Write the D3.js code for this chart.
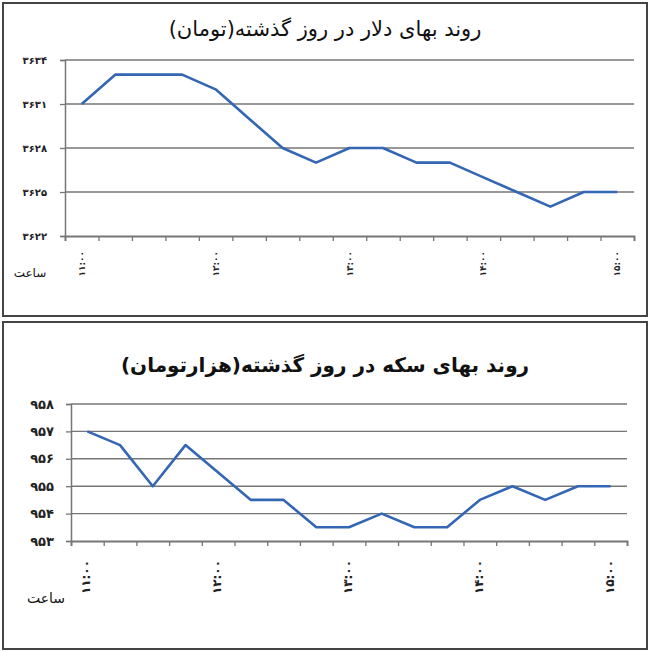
<!DOCTYPE html>
<html><head><meta charset="utf-8">
<script src="https://cdn.jsdelivr.net/npm/d3@7"></script>
<style>body{margin:0;background:#fff}svg{display:block}</style>
</head><body>
<svg id="c" width="650" height="652"></svg>
<script>
const times = ["11:00","11:15","11:30","11:45","12:00","12:15","12:30","12:45","13:00","13:15","13:30","13:45","14:00","14:15","14:30","14:45","15:00"];
const dollarValues = [3631,3633,3633,3633,3632,3630,3628,3627,3628,3628,3627,3627,3626,3625,3624,3625,3625];
const dollarTicks = [3622,3625,3628,3631,3634];
const coinValues = [957,956.5,955,956.5,955.5,954.5,954.5,953.5,953.5,954,953.5,953.5,954.5,955,954.5,955,955];
const coinTicks = [953,954,955,956,957,958];
const dollarTitle = "روند بهای دلار در روز گذشته(تومان)";
const coinTitle = "روند بهای سکه در روز گذشته(هزارتومان)";
const xTitle = "ساعت";

const fa = s => String(s).replace(/\d/g, d => "۰۱۲۳۴۵۶۷۸۹"[d]);
const svg = d3.select("#c");

function panel(cfg){
  const g = svg.append("g");
  g.append("rect").attr("x",cfg.box[0]).attr("y",cfg.box[1]).attr("width",cfg.box[2]).attr("height",cfg.box[3])
    .attr("fill","#fff").attr("stroke","#444").attr("stroke-width",2);
  g.append("text").attr("x",325).attr("y",cfg.titleY).attr("text-anchor","middle")
    .attr("font-family","DejaVu Sans").attr("font-size",cfg.titleSize).attr("font-weight",cfg.titleWeight)
    .attr("fill","#111").attr("direction","rtl").text(cfg.title);
  const [L,R,T,B] = cfg.plot;
  const y = d3.scaleLinear().domain(d3.extent(cfg.ticks)).range([B,T]);
  const xb = d3.scaleBand().domain(times).range([L,R]);
  const xl = d3.scaleLinear().domain([0,times.length]).range([L,R]);
  g.append("g").selectAll("line").data(cfg.ticks.slice(1)).join("line")
    .attr("x1",L).attr("x2",R).attr("y1",d=>y(d)).attr("y2",d=>y(d))
    .attr("stroke","#767676").attr("stroke-width",1.4);
  const ya = g.append("g").attr("transform",`translate(${L},0)`)
    .call(d3.axisLeft(y).tickValues(cfg.ticks).tickSize(5).tickPadding(cfg.yPad).tickFormat(fa));
  ya.select(".domain").attr("stroke","#767676").attr("stroke-width",1.5);
  ya.selectAll(".tick line").attr("stroke","#767676").attr("stroke-width",1.3);
  ya.selectAll("text").attr("font-family","DejaVu Sans").attr("font-size",cfg.ySize).attr("font-weight","bold")
    .attr("letter-spacing",cfg.ls).attr("fill","#222");
  const xa = g.append("g").attr("transform",`translate(0,${B})`)
    .call(d3.axisBottom(xl).tickValues(d3.range(times.length+1)).tickSize(5).tickFormat(""));
  xa.select(".domain").attr("stroke","#767676").attr("stroke-width",1.8);
  xa.selectAll(".tick line").attr("stroke","#767676").attr("stroke-width",1.3);
  g.append("g").selectAll("text").data(times.filter((t,i)=>i%4===0)).join("text")
    .attr("transform",d=>`translate(${xb(d)+xb.bandwidth()/2+3},${B+cfg.xLabOff}) rotate(-90)`)
    .attr("text-anchor","end").attr("font-family","DejaVu Sans").attr("font-size",cfg.xSize).attr("font-weight","bold")
    .attr("fill","#222").text(d=>fa(d));
  g.append("text").attr("x",cfg.xt[0]).attr("y",cfg.xt[1]).attr("text-anchor","middle")
    .attr("font-family","DejaVu Sans").attr("font-size",cfg.xtSize).attr("fill","#111").text(xTitle);
  g.append("path").datum(cfg.values)
    .attr("d",d3.line().x((d,i)=>xb(times[i])+xb.bandwidth()/2).y(d=>y(d)))
    .attr("fill","none").attr("stroke","#3366b3").attr("stroke-width",2.6).attr("stroke-linejoin","round");
}

panel({box:[3,3,644,313], title:dollarTitle, titleY:36, titleSize:21, titleWeight:"normal",
  plot:[65,634,60,236], ticks:dollarTicks, values:dollarValues, yPad:13, ySize:10, ls:3,
  xLabOff:15, xSize:9, xt:[30,277], xtSize:12});
panel({box:[3,322,644,327], title:coinTitle, titleY:372, titleSize:20, titleWeight:"bold",
  plot:[71,627,404,541], ticks:coinTicks, values:coinValues, yPad:12, ySize:13, ls:4,
  xLabOff:19, xSize:12, xt:[46,603], xtSize:14});
</script>
</body></html>
